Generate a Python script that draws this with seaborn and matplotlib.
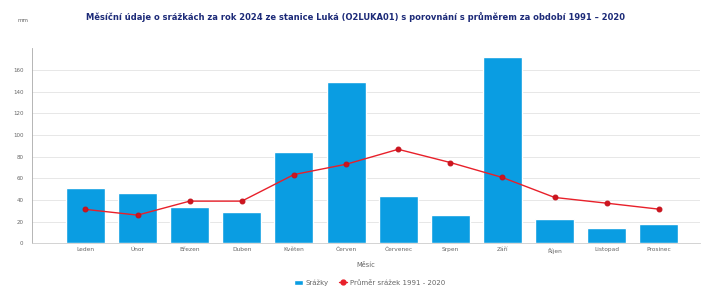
import pandas as pd
import matplotlib.pyplot as plt
import seaborn as sns
from matplotlib.lines import Line2D
from matplotlib.patches import Patch

sns.set_theme(style="white")
plt.rcParams['font.family'] = ['DejaVu Sans']

# Data
months = ['Leden', 'Únor', 'Březen', 'Duben', 'Květen', 'Červen',
          'Červenec', 'Srpen', 'Září', 'Říjen', 'Listopad', 'Prosinec']
srazky_2024 = [51.1, 46.5, 33.7, 28.5, 84.2, 148.6, 43.8, 26.0, 171.6, 22.3, 13.8, 17.5]
prumer_1991_2020 = [31.3, 26.0, 38.9, 38.9, 63.4, 72.9, 86.7, 74.5, 60.7, 42.3, 37.0, 31.5]
y_ticks = [0, 20, 40, 60, 80, 100, 120, 140, 160]

df = pd.DataFrame({'mesic': months, 'srazky': srazky_2024, 'prumer': prumer_1991_2020})

bar_color = '#0a9de2'
line_color = '#e8202a'
text_gray = '#666666'

fig = plt.figure(figsize=(7.11, 2.90), dpi=100)
ax = fig.add_axes([0.0446, 0.161, 0.940, 0.673])

sns.barplot(data=df, x='mesic', y='srazky', color=bar_color, width=0.75,
            saturation=1, ax=ax, zorder=2)
sns.lineplot(data=df, x='mesic', y='prumer', color=line_color, marker='o',
             markersize=3.5, markeredgecolor='#c4121c', markerfacecolor='#d0141e',
             linewidth=1.0, ax=ax, zorder=3, sort=False)

ax.set_xlim(-1.03, 11.79)
ax.set_ylim(0, 180)
ax.set_yticks(y_ticks)
ax.set_yticklabels([str(t) for t in y_ticks], fontsize=4, color=text_gray)
ax.tick_params(axis='x', labelsize=4.2, colors=text_gray, length=0, pad=3)
ax.tick_params(axis='y', length=2, width=0.5, color='#999999', pad=4)
ax.grid(axis='y', color='#e3e3e3', linewidth=0.6, zorder=0)
ax.set_axisbelow(True)
for s in ['top', 'right']:
    ax.spines[s].set_visible(False)
ax.spines['left'].set_color('#aaaaaa')
ax.spines['left'].set_linewidth(0.6)
ax.spines['bottom'].set_color('#cccccc')
ax.spines['bottom'].set_linewidth(0.6)
ax.set_xlabel('Měsíc', fontsize=4.8, color=text_gray, labelpad=6)
ax.set_ylabel('')

fig.text(0.025, 0.925, 'mm', fontsize=4, color=text_gray)
fig.text(0.5, 0.94,
         'Měsíční údaje o srážkách za rok 2024 ze stanice Luká (O2LUKA01) '
         's porovnání s průměrem za období 1991 – 2020',
         ha='center', va='center', fontsize=6, fontweight='bold', color='#1c2a78')

handles = [Patch(facecolor=bar_color, label='Srážky'),
           Line2D([0], [0], color=line_color, marker='o', markersize=3.5,
                  linewidth=1.0, label='Průměr srážek 1991 - 2020')]
fig.legend(handles=handles, loc='center', bbox_to_anchor=(0.52, 0.025), ncol=2,
           frameon=False, fontsize=5, labelcolor=text_gray, handlelength=1.2,
           handleheight=0.8, columnspacing=1.5, handletextpad=0.4)

fig.savefig('out.png', dpi=100, facecolor='white')
